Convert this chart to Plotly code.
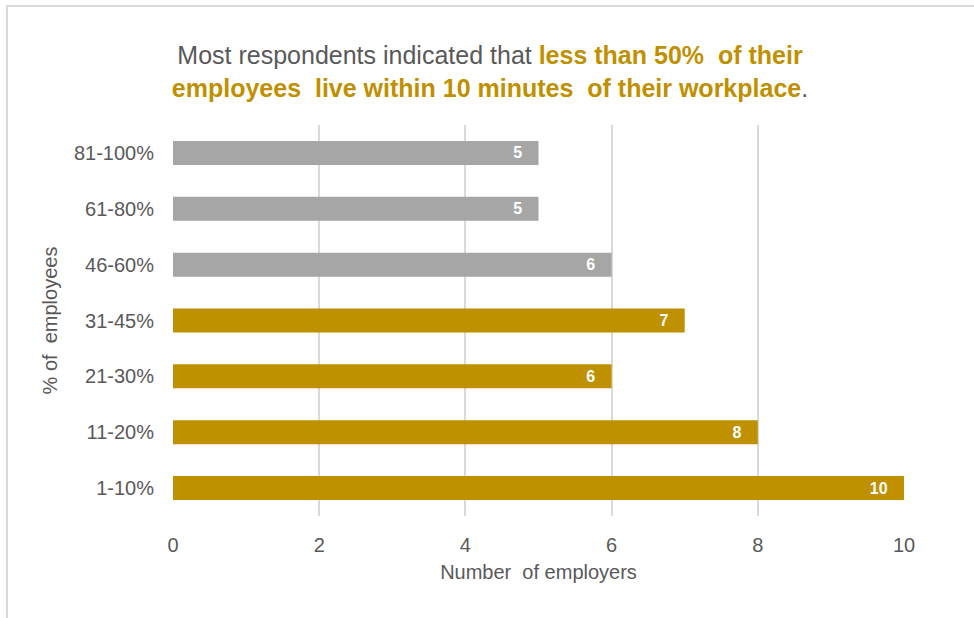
import plotly.graph_objects as go

# data, bottom to top
categories = ["1-10%", "11-20%", "21-30%", "31-45%", "46-60%", "61-80%", "81-100%"]
employers = [10, 8, 6, 7, 6, 5, 5]
under_50 = [True, True, True, True, False, False, False]

x_ticks = [0, 2, 4, 6, 8, 10]

GOLD = "#BF9000"
GREY = "#A6A6A6"
TEXT = "#595959"
FONT = "Liberation Sans, Arial, sans-serif"

bar_colors = [GOLD if flag else GREY for flag in under_50]

fig = go.Figure(
    go.Bar(
        x=employers,
        y=categories,
        orientation="h",
        marker=dict(color=bar_colors, line=dict(width=0)),
        # non-breaking spaces keep the labels a little away from the bar end
        text=[str(v) + "\u00a0\u00a0\u00a0" for v in employers],
        textposition="inside",
        insidetextanchor="end",
        textfont=dict(family=FONT, size=16, color="white", weight="bold"),
        hoverinfo="x+y",
    )
)

title_text = (
    "Most respondents indicated that "
    "<span style='color:%s'><b>less than 50%%  of their</b></span><br>"
    "<span style='color:%s'><b>employees  live within 10 minutes  of their workplace</b></span>."
    % (GOLD, GOLD)
)

# light border around the chart area
ml, mt, pw, ph = 173, 125, 731, 391
def px_x(px):
    return (px - ml) / pw
def px_y(py):
    return (mt + ph - py) / ph

fig.add_shape(
    type="rect", xref="paper", yref="paper",
    x0=px_x(7), x1=px_x(1060), y0=px_y(700), y1=px_y(6),
    line=dict(color="#D9D9D9", width=2), fillcolor="rgba(0,0,0,0)",
    layer="below",
)

fig.update_layout(
    width=974,
    height=618,
    margin=dict(l=ml, r=974 - ml - pw, t=mt, b=618 - mt - ph),
    paper_bgcolor="white",
    plot_bgcolor="white",
    bargap=0.57,
    showlegend=False,
    font=dict(family=FONT, color=TEXT),
    title=dict(
        text=title_text,
        x=490 / 974,
        xanchor="center",
        y=1 - 64 / 618,
        yanchor="middle",
        font=dict(family=FONT, size=25, color=TEXT),
    ),
)

fig.update_xaxes(
    range=[0, 10],
    tickvals=x_ticks,
    showgrid=True,
    gridcolor="#D9D9D9",
    gridwidth=1.5,
    zeroline=False,
    showline=False,
    ticks="",
    ticklabelstandoff=15,
    tickfont=dict(family=FONT, size=20, color=TEXT),
    title=dict(text="Number  of employers", font=dict(family=FONT, size=20, color=TEXT), standoff=9),
)

fig.update_yaxes(
    categoryorder="array",
    categoryarray=categories,
    showgrid=False,
    showline=False,
    ticks="",
    ticklabelstandoff=18,
    tickfont=dict(family=FONT, size=20, color=TEXT),
    title=dict(text="% of  employees", font=dict(family=FONT, size=20, color=TEXT), standoff=10),
)

fig.write_html(
    "out.html",
    config={"displayModeBar": False},
    post_script="document.body.style.margin='0';",
)
